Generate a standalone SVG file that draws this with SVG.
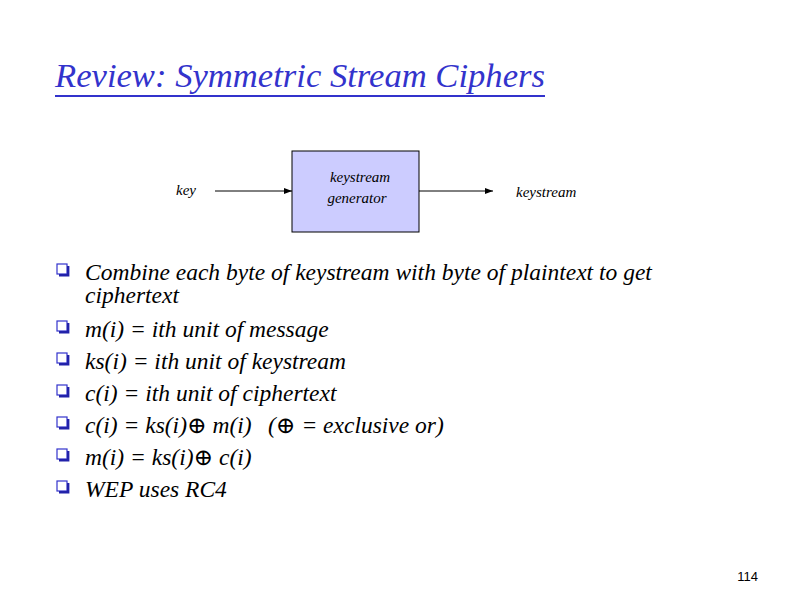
<svg xmlns="http://www.w3.org/2000/svg" width="800" height="600" viewBox="0 0 800 600">
<defs>
<style>
.t{font-family:"Liberation Serif","DejaVu Serif",serif;font-style:italic;fill:#000}
.title{font-family:"Liberation Serif","DejaVu Serif",serif;font-style:italic;fill:#3333cc;font-size:34px}
.b{font-size:23.5px}
.s{font-size:15px}
.bul{fill:#fff;stroke:#3333cc;stroke-width:1.2}
.sh{fill:none;stroke:#2222aa;stroke-width:2.4}
.conn{stroke:#000;stroke-width:1;fill:none}
</style>
<marker id="ah" markerWidth="8" markerHeight="6" refX="8" refY="3" orient="auto" markerUnits="userSpaceOnUse">
<path d="M0,0 L8,3 L0,6 z" fill="#000"/>
</marker>
<g id="bx">
<rect class="bul" x="0" y="0" width="10" height="10"/>
<path class="sh" d="M2,11.2 H11.2 V2"/>
</g>
</defs>
<rect width="800" height="600" fill="#fff"/>
<text class="title" x="55" y="87" textLength="490" lengthAdjust="spacingAndGlyphs">Review: Symmetric Stream Ciphers</text>
<line x1="55" y1="96" x2="545" y2="96" stroke="#3333cc" stroke-width="2"/>
<g id="key"><text class="t s" x="176" y="195">key</text></g>
<g id="generator">
<rect x="292" y="151" width="127" height="81" fill="#ccccff" stroke="#000" stroke-width="1"/>
<text class="t s" x="360" y="182" text-anchor="middle">keystream</text>
<text class="t s" x="357" y="203" text-anchor="middle">generator</text>
</g>
<g id="keystream"><text class="t s" x="516" y="197">keystream</text></g>
<g id="connectors">
<line class="conn" x1="215" y1="191" x2="292" y2="191" marker-end="url(#ah)"/>
<line class="conn" x1="419" y1="191" x2="493" y2="191" marker-end="url(#ah)"/>
</g>
<g id="bullets">
<use href="#bx" x="57" y="264"/>
<use href="#bx" x="57" y="321"/>
<use href="#bx" x="57" y="353"/>
<use href="#bx" x="57" y="385"/>
<use href="#bx" x="57" y="417"/>
<use href="#bx" x="57" y="449"/>
<use href="#bx" x="57" y="481"/>
<text class="t b" x="85" y="280">Combine each byte of keystream with byte of plaintext to get</text>
<text class="t b" x="85" y="303">ciphertext</text>
<text class="t b" x="85" y="337">m(i) = ith unit of message</text>
<text class="t b" x="85" y="369">ks(i) = ith unit of keystream</text>
<text class="t b" x="85" y="401">c(i) = ith unit of ciphertext</text>
<text class="t b" x="85" y="433">c(i) = ks(i)⊕ m(i)<tspan x="268">(⊕ = exclusive or)</tspan></text>
<text class="t b" x="85" y="465">m(i) = ks(i)⊕ c(i)</text>
<text class="t b" x="85" y="497">WEP uses RC4</text>
</g>
<text x="758" y="581" text-anchor="end" font-family="Liberation Sans, sans-serif" font-size="13">114</text>
</svg>
